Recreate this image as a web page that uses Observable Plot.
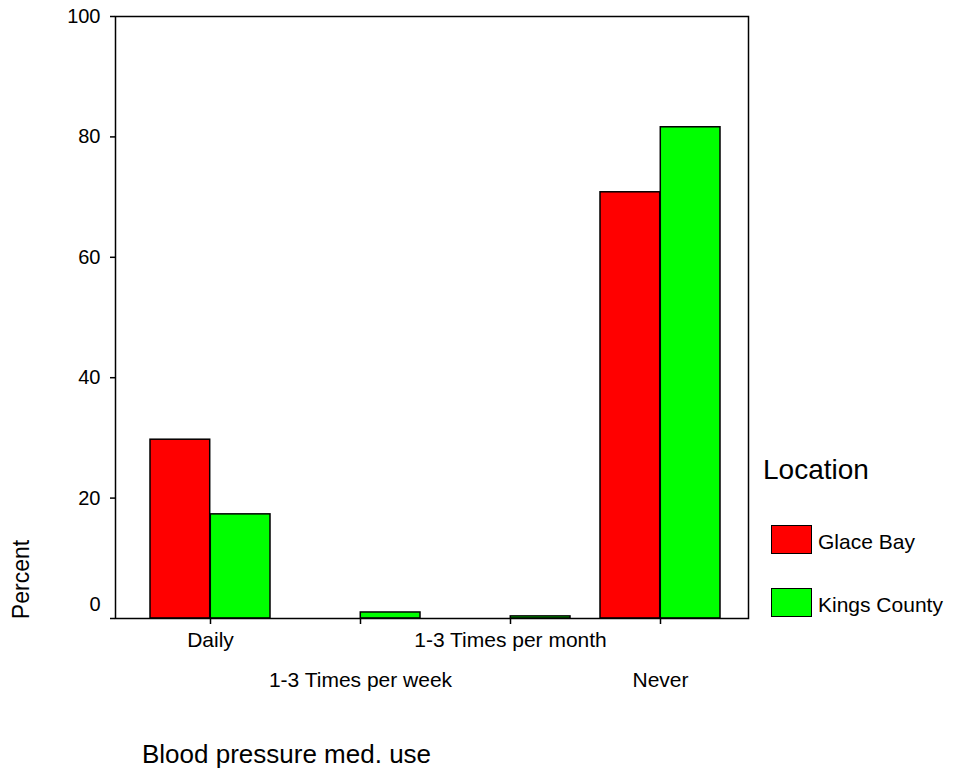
<!DOCTYPE html>
<html>
<head>
<meta charset="utf-8">
<script src="https://cdn.jsdelivr.net/npm/d3@7"></script>
<script src="https://cdn.jsdelivr.net/npm/@observablehq/plot@0.6"></script>
<style>
  html, body { margin: 0; padding: 0; background: #fff; }
  body { font-family: "Liberation Sans", Arial, sans-serif; }
  #wrap { position: relative; width: 957px; height: 773px; overflow: hidden; }
  #wrap svg { position: absolute; left: 0; top: 0; }
  .lbl { position: absolute; color: #000; white-space: nowrap; line-height: 1; }
  .sw { position: absolute; width: 39px; height: 27px; border: 1.5px solid #000; }
</style>
</head>
<body>
<div id="wrap"></div>
<script>
const categories = ["Daily", "1-3 Times per week", "1-3 Times per month", "Never"];
const locations = ["Glace Bay", "Kings County"];
const glaceBay = [29.7, 0, 0, 70.8];
const kingsCounty = [17.3, 1.0, 0.35, 81.6];
const colors = ["#ff0000", "#00ff00"];
const yTicks = [0, 20, 40, 60, 80, 100];
const xRow1 = ["Daily", "1-3 Times per month"];
const xRow2 = ["1-3 Times per week", "Never"];
const xTitle = "Blood pressure med. use";
const yTitle = "Percent";
const legendTitle = "Location";

const W = 957, H = 773;
const mL = 115, mR = 209, mT = 16, mB = 155;
const pad = 0.2;
const step = (W - mL - mR) / (categories.length - pad + 2 * pad);
const half = step * (1 - pad) / 2;

const gData = categories.map((c, i) => ({category: c, value: glaceBay[i]}));
const kData = categories.map((c, i) => ({category: c, value: kingsCounty[i]}));

const chart = Plot.plot({
  width: W, height: H,
  marginLeft: mL, marginRight: mR, marginTop: mT, marginBottom: mB,
  style: {fontFamily: "'Liberation Sans', Arial, sans-serif", fontSize: "20px", color: "#000", background: "#fff"},
  x: {type: "band", domain: categories, padding: pad, align: 0.55, axis: null, label: null},
  y: {domain: [0, 100], axis: null, label: null},
  marks: [
    Plot.barY(gData, {x: "category", y: "value", fill: colors[0], stroke: "#000", strokeWidth: 1.5, insetRight: half}),
    Plot.barY(kData, {x: "category", y: "value", fill: colors[1], stroke: "#000", strokeWidth: 1.5, insetLeft: half}),
    Plot.frame({stroke: "#000", strokeWidth: 1.5}),
    Plot.axisY({ticks: yTicks, tickSize: 5, tickFormat: () => "", label: null, stroke: "#000", strokeWidth: 1.5}),
    Plot.text(yTicks.filter(t => t > 0), {y: d => d, text: d => String(d), frameAnchor: "left", textAnchor: "end", dx: -15, fontSize: 20, fill: "#000"}),
    Plot.text(yTicks.filter(t => t === 0), {y: d => d, text: d => String(d), frameAnchor: "left", textAnchor: "end", dx: -15, dy: -14, fontSize: 20, fill: "#000"}),
    Plot.axisX({ticks: xRow1, tickSize: 6, tickPadding: 8, fontSize: 21, label: null, stroke: "#000", strokeWidth: 1.5}),
    Plot.axisX({ticks: xRow2, tickSize: 6, tickPadding: 48, fontSize: 21, label: null, stroke: "#000", strokeWidth: 1.5})
  ]
});

const wrap = document.getElementById("wrap");
wrap.appendChild(chart);

function addLabel(text, left, top, size, extra) {
  const d = document.createElement("div");
  d.className = "lbl";
  d.textContent = text;
  d.style.left = left + "px";
  d.style.top = top + "px";
  d.style.fontSize = size + "px";
  if (extra) Object.assign(d.style, extra);
  wrap.appendChild(d);
  return d;
}

addLabel(xTitle, 142, 741, 26);
addLabel(yTitle, 21 - 40, 580 - 12, 23, {width: "80px", textAlign: "center", transform: "rotate(-90deg)", transformOrigin: "50% 50%"});
addLabel(legendTitle, 763, 456, 28);

locations.forEach((name, i) => {
  const top = 525 + i * 63;
  const sw = document.createElement("div");
  sw.className = "sw";
  sw.style.left = "771px";
  sw.style.top = top + "px";
  sw.style.background = colors[i];
  wrap.appendChild(sw);
  addLabel(name, 818, top + 6, 21);
});
</script>
</body>
</html>
